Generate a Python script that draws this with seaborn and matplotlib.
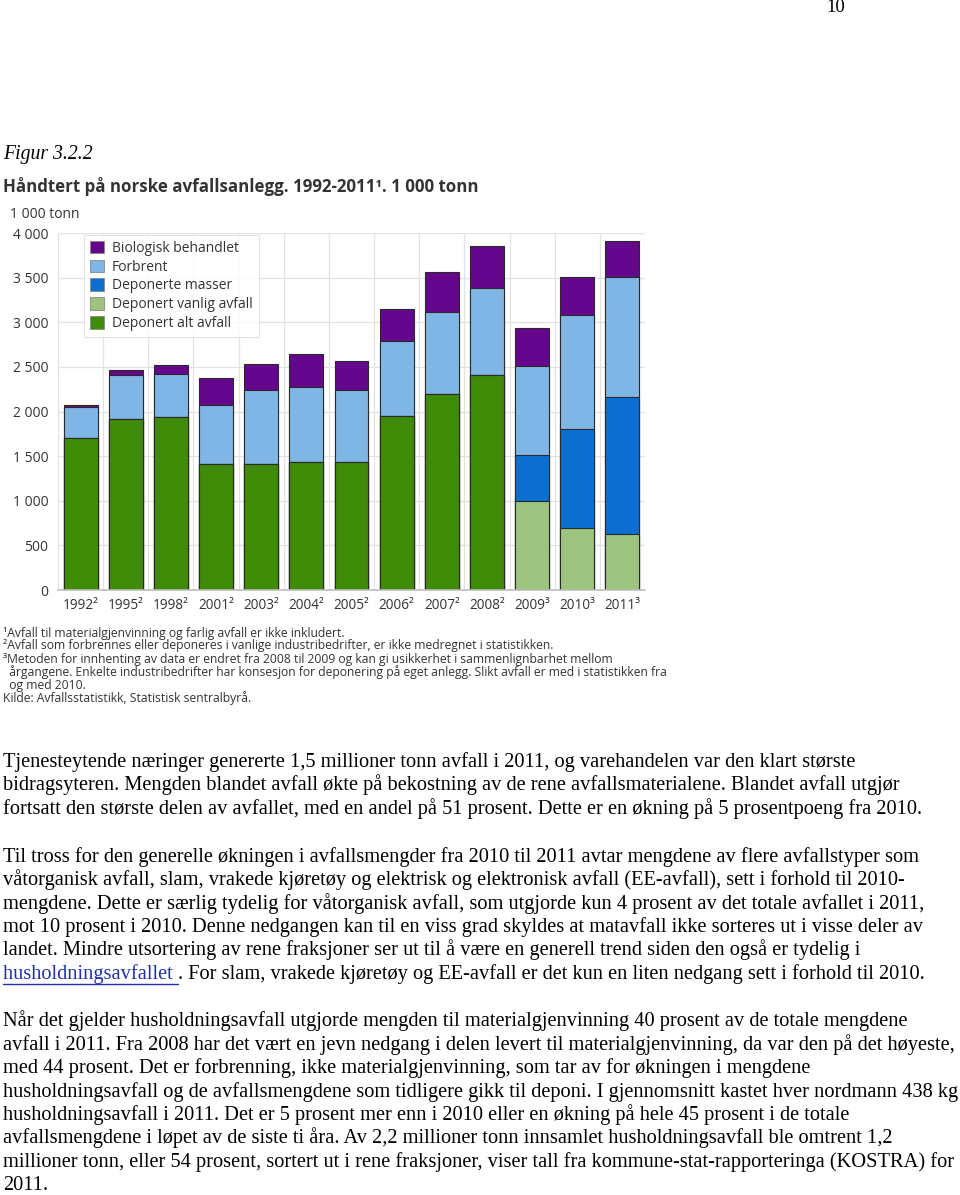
import matplotlib
matplotlib.use("Agg")
import matplotlib.pyplot as plt
import seaborn as sns
import pandas as pd
import numpy as np
from matplotlib.patches import Patch
from matplotlib.lines import Line2D

# ---------------- data ----------------
years = ["1992²", "1995²", "1998²", "2001²", "2003²", "2004²", "2005²",
         "2006²", "2007²", "2008²", "2009³", "2010³", "2011³"]
deponert_alt = [1700, 1913, 1940, 1410, 1410, 1430, 1430, 1955, 2195, 2410, 0, 0, 0]
deponert_vanlig = [0, 0, 0, 0, 0, 0, 0, 0, 0, 0, 1000, 700, 630]
deponerte_masser = [0, 0, 0, 0, 0, 0, 0, 0, 0, 0, 510, 1100, 1535]
forbrent = [345, 500, 480, 660, 830, 845, 815, 840, 920, 975, 1005, 1280, 1340]
biologisk = [25, 50, 100, 300, 290, 365, 325, 355, 450, 465, 415, 425, 400]

series_names = ["Deponert alt avfall", "Deponert vanlig avfall", "Deponerte masser",
                "Forbrent", "Biologisk behandlet"]
series_colors = ["#3f8a06", "#9cc47e", "#0a6fd0", "#80b6e6", "#64078c"]
ytick_values = [0, 500, 1000, 1500, 2000, 2500, 3000, 3500, 4000]
ytick_labels = ["0", "500", "1 000", "1 500", "2 000", "2 500", "3 000", "3 500", "4 000"]

title = "Håndtert på norske avfallsanlegg. 1992-2011¹. 1 000 tonn"
unit_label = "1 000 tonn"
footnotes = [
    "¹Avfall til materialgjenvinning og farlig avfall er ikke inkludert.",
    "²Avfall som forbrennes eller deponeres i vanlige industribedrifter, er ikke medregnet i statistikken.",
    "³Metoden for innhenting av data er endret fra 2008 til 2009 og kan gi usikkerhet i sammenlignbarhet mellom",
    "  årgangene. Enkelte industribedrifter har konsesjon for deponering på eget anlegg. Slikt avfall er med i statistikken fra",
    "  og med 2010.",
    "Kilde: Avfallsstatistikk, Statistisk sentralbyrå.",
]

para1 = [
    "Tjenesteytende næringer genererte 1,5 millioner tonn avfall i 2011, og varehandelen var den klart største",
    "bidragsyteren. Mengden blandet avfall økte på bekostning av de rene avfallsmaterialene. Blandet avfall utgjør",
    "fortsatt den største delen av avfallet, med en andel på 51 prosent. Dette er en økning på 5 prosentpoeng fra 2010.",
]
para2 = [
    "Til tross for den generelle økningen i avfallsmengder fra 2010 til 2011 avtar mengdene av flere avfallstyper som",
    "våtorganisk avfall, slam, vrakede kjøretøy og elektrisk og elektronisk avfall (EE-avfall), sett i forhold til 2010-",
    "mengdene. Dette er særlig tydelig for våtorganisk avfall, som utgjorde kun 4 prosent av det totale avfallet i 2011,",
    "mot 10 prosent i 2010. Denne nedgangen kan til en viss grad skyldes at matavfall ikke sorteres ut i visse deler av",
    "landet. Mindre utsortering av rene fraksjoner ser ut til å være en generell trend siden den også er tydelig i",
]
para2_link = "husholdningsavfallet "
para2_last = ". For slam, vrakede kjøretøy og EE-avfall er det kun en liten nedgang sett i forhold til 2010."
para3 = [
    "Når det gjelder husholdningsavfall utgjorde mengden til materialgjenvinning 40 prosent av de totale mengdene",
    "avfall i 2011. Fra 2008 har det vært en jevn nedgang i delen levert til materialgjenvinning, da var den på det høyeste,",
    "med 44 prosent. Det er forbrenning, ikke materialgjenvinning, som tar av for økningen i mengdene",
    "husholdningsavfall og de avfallsmengdene som tidligere gikk til deponi. I gjennomsnitt kastet hver nordmann 438 kg",
    "husholdningsavfall i 2011. Det er 5 prosent mer enn i 2010 eller en økning på hele 45 prosent i de totale",
    "avfallsmengdene i løpet av de siste ti åra. Av 2,2 millioner tonn innsamlet husholdningsavfall ble omtrent 1,2",
    "millioner tonn, eller 54 prosent, sortert ut i rene fraksjoner, viser tall fra kommune-stat-rapporteringa (KOSTRA) for",
    "2011.",
]

# ---------------- figure ----------------
sns.set_theme(style="white")
plt.rcParams["font.family"] = ["Open Sans", "DejaVu Sans"]

W, H = 960, 1195
fig = plt.figure(figsize=(W / 100, H / 100), dpi=100)
fig.patch.set_facecolor("white")


def fx(x):
    return x / W


def fy(y):
    return 1 - y / H


ax_l, ax_r, ax_t, ax_b = 58, 645, 233, 590
ax = fig.add_axes([fx(ax_l), fy(ax_b), (ax_r - ax_l) / W, (ax_b - ax_t) / H])
ax.set_facecolor("white")

df = pd.DataFrame({"year": years,
                   "Deponert alt avfall": deponert_alt,
                   "Deponert vanlig avfall": deponert_vanlig,
                   "Deponerte masser": deponerte_masser,
                   "Forbrent": forbrent,
                   "Biologisk behandlet": biologisk})
cum = df[series_names].cumsum(axis=1)

# draw from top (largest cumulative) to bottom so lower layers sit on top
for name, color in reversed(list(zip(series_names, series_colors))):
    sns.barplot(x=df["year"], y=cum[name], order=years, color=color,
                width=0.75, edgecolor="#2a2a2a", linewidth=0.8,
                saturation=1, ax=ax, zorder=3)

ax.set_xlim(-0.5, len(years) - 0.5)
ax.set_ylim(0, 4000)
ax.set_yticks(ytick_values)
ax.set_yticklabels(ytick_labels)
ax.set_xticks(range(len(years)))
ax.set_xticklabels(years)
ax.set_xlabel("")
ax.set_ylabel("")
ax.tick_params(axis="both", length=0, labelsize=9.8, colors="#333333")
ax.tick_params(axis="y", pad=7, labelsize=10)
ax.tick_params(axis="x", pad=6)
for y in ytick_values[1:]:
    ax.axhline(y, color="#e2e2e2", lw=0.9, zorder=1)
for xb in np.arange(-0.5, len(years), 1.0):
    ax.axvline(xb, color="#e2e2e2", lw=0.9, zorder=1)
for s in ["top", "right", "left"]:
    ax.spines[s].set_visible(False)
ax.spines["bottom"].set_color("#bdbdbd")
ax.spines["bottom"].set_linewidth(1.2)
ax.spines["bottom"].set_zorder(5)

handles = [Patch(facecolor=c, edgecolor="#888888", linewidth=0.6, label=n)
           for n, c in zip(series_names, series_colors)][::-1]
leg = ax.legend(handles=handles, loc="upper left",
                bbox_to_anchor=((84 - ax_l) / (ax_r - ax_l), 0.995),
                fontsize=10, frameon=True, fancybox=False, borderpad=0.42,
                handlelength=1.0, handleheight=1.0, handletextpad=0.6,
                labelspacing=0.28, borderaxespad=0)
leg.get_frame().set_edgecolor("#dddddd")
leg.get_frame().set_linewidth(0.8)
for t in leg.get_texts():
    t.set_color("#333333")
leg.set_zorder(6)

# chart texts
fig.text(fx(3), fy(186), title, fontsize=12.2, fontweight="bold",
         color="#333333", ha="left", va="center")
fig.text(fx(10), fy(214), unit_label, fontsize=10, color="#333333",
         ha="left", va="center")
foot_y = [633, 646, 659, 672, 685, 698]
for t, y in zip(footnotes, foot_y):
    fig.text(fx(3), fy(y), t, fontsize=8.7, color="#333333", ha="left", va="center")

# page texts (serif)
serif = ["Liberation Serif", "DejaVu Serif"]
fig.text(fx(826), fy(8), "10", fontsize=13.5, family=serif, ha="left", va="center",
         color="black")
fig.text(fx(3), fy(155), "Figur 3.2.2", fontsize=14.2, family=serif, style="italic",
         ha="left", va="center", color="black")

BODY = 14.7
def body_line(x, y, s, color="black"):
    return fig.text(fx(x), fy(y), s, fontsize=BODY, family=serif, ha="left",
                    va="center", color=color)

for s, y in zip(para1, [762, 785, 809]):
    body_line(3, y, s)
for s, y in zip(para2, [857, 880, 904, 927, 950]):
    body_line(3, y, s)
link = body_line(3, 974, para2_link, color="#1f2fb0")
fig.canvas.draw()
r = fig.canvas.get_renderer()
bb = link.get_window_extent(renderer=r)
body_line(bb.x1, 974, para2_last)
fig.add_artist(Line2D([bb.x0 / W, bb.x1 / W], [fy(984), fy(984)],
                      color="#1f2fb0", lw=1.0, transform=fig.transFigure))
for s, y in zip(para3, [1021, 1045, 1068, 1092, 1115, 1138, 1162, 1185]):
    body_line(3, y, s)

fig.savefig("out.png", dpi=100, facecolor="white")
